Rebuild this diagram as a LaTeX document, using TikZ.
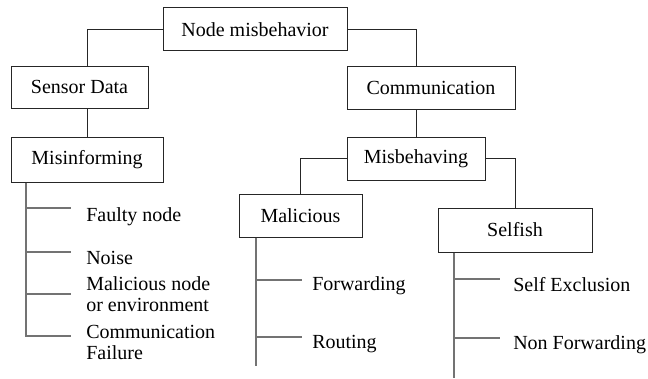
\documentclass[tikz,border=0pt]{standalone}
\usepackage{fontspec}
\setmainfont{Liberation Serif}
\tikzset{
mbbox/.style={rectangle,draw=black!85,line width=0.75pt,align=center,inner sep=0pt},
mbleaftext/.style={anchor=base west,align=left,inner sep=0pt},
mblink/.style={draw=black!85,line width=0.75pt},
mbleaf/.style={draw=black!55,line width=1.2pt}
}
\begin{document}
\begin{tikzpicture}[
x=0.75pt,
y=-0.75pt,
every node/.style={font=\fontsize{15}{15.75}\selectfont}
]
\useasboundingbox (0,0) rectangle (648,378);
\node[mbbox,minimum width=138pt,minimum height=32.25pt]
  (root) at (255,29.5) {Node misbehavior};
\node[mbbox,minimum width=102.75pt,minimum height=31.5pt]
  (sensor) at (79.5,87) {Sensor Data};
\node[mbbox,minimum width=126pt,minimum height=32.25pt]
  (comm) at (431,87.5) {Communication};
\node[mbbox,minimum width=114pt,minimum height=33.75pt]
  (misinf) at (87,159.5) {Misinforming};
\node[mbbox,minimum width=103.5pt,minimum height=32.25pt]
  (misbeh) at (416,158.5) {Misbehaving};
\node[mbbox,minimum width=92.25pt,minimum height=32.25pt]
  (malic) at (300.5,215.5) {Malicious};
\node[mbbox,minimum width=115.5pt,minimum height=33pt]
  (selfish) at (515,230) {Selfish};
\node[mbleaftext] (faulty) at (86,221) {Faulty node};
\node[mbleaftext] (noise) at (86,264) {Noise};
\node[mbleaftext] (malnode) at (86,311) {Malicious node\\or environment};
\node[mbleaftext] (commfail) at (86,359) {Communication\\Failure};
\node[mbleaftext] (fwd) at (312,290) {Forwarding};
\node[mbleaftext] (routing) at (312,348) {Routing};
\node[mbleaftext] (selfex) at (513,291) {Self Exclusion};
\node[mbleaftext] (nonfwd) at (513,349) {Non Forwarding};
\coordinate (sdspine) at (26,336);
\coordinate (faultytip) at (71,208);
\coordinate (noisetip) at (71,252);
\coordinate (malnodetip) at (71,294);
\coordinate (commfailtip) at (71,336);
\coordinate (malspine) at (256,366);
\coordinate (fwdtip) at (302,280);
\coordinate (routingtip) at (302,337);
\coordinate (selfspine) at (454,378);
\coordinate (selfextip) at (500,279);
\coordinate (nonfwdtip) at (500,338);
\draw[mblink] (root.west) -| (sensor.north -| misinf.north);
\draw[mblink] (sensor.south -| misinf.north) -- (misinf.north);
\draw[mblink] (root.east) -| (comm.north -| misbeh.north);
\draw[mblink] (comm.south -| misbeh.north) -- (misbeh.north);
\draw[mblink] (misbeh.west) -| (malic.north);
\draw[mblink] (misbeh.east) -| (selfish.north);
\draw[mbleaf] (misinf.south -| sdspine) -- (sdspine) -- (commfailtip);
\draw[mbleaf] (faultytip -| sdspine) -- (faultytip);
\draw[mbleaf] (noisetip -| sdspine) -- (noisetip);
\draw[mbleaf] (malnodetip -| sdspine) -- (malnodetip);
\draw[mbleaf] (malic.south -| malspine) -- (malspine);
\draw[mbleaf] (fwdtip -| malspine) -- (fwdtip);
\draw[mbleaf] (routingtip -| malspine) -- (routingtip);
\draw[mbleaf] (selfish.south -| selfspine) -- (selfspine);
\draw[mbleaf] (selfextip -| selfspine) -- (selfextip);
\draw[mbleaf] (nonfwdtip -| selfspine) -- (nonfwdtip);
\end{tikzpicture}
\end{document}
